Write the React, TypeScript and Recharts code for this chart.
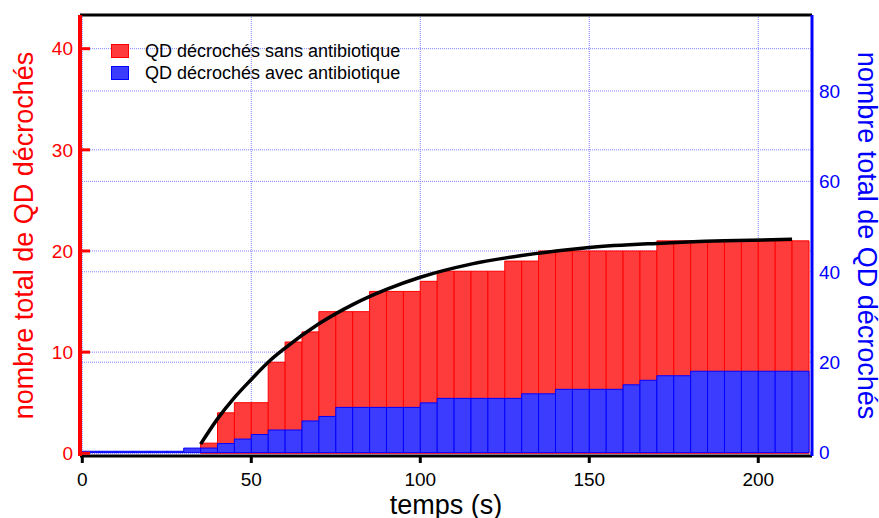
import React from 'react';
import { ComposedChart, Bar, Line, XAxis, YAxis, CartesianGrid, ReferenceLine } from 'recharts';

// ---- data ----
// centres of the 5 s bins (s)
const binCenters = [
  2.5, 7.5, 12.5, 17.5, 22.5, 27.5, 32.5, 37.5, 42.5, 47.5,
  52.5, 57.5, 62.5, 67.5, 72.5, 77.5, 82.5, 87.5, 92.5, 97.5,
  102.5, 107.5, 112.5, 117.5, 122.5, 127.5, 132.5, 137.5, 142.5, 147.5,
  152.5, 157.5, 162.5, 167.5, 172.5, 177.5, 182.5, 187.5, 192.5, 197.5,
  202.5, 207.5, 212.5,
];
// QD décrochés sans antibiotique (left axis)
const sansAntibiotique = [
  0, 0, 0, 0, 0, 0, 0, 1, 4, 5,
  5, 9, 11, 12, 14, 14, 14, 16, 16, 16,
  17, 18, 18, 18, 18, 19, 19, 20, 20, 20,
  20, 20, 20, 20, 21, 21, 21, 21, 21, 21,
  21, 21, 21,
];
// QD décrochés avec antibiotique (right axis)
const avecAntibiotique = [
  0.3, 0.3, 0.3, 0.3, 0.3, 0.3, 1, 1, 2, 3,
  4, 5, 5, 7, 8, 10, 10, 10, 10, 10,
  11, 12, 12, 12, 12, 12, 13, 13, 14, 14,
  14, 14, 15, 16, 17, 17, 18, 18, 18, 18,
  18, 18, 18,
];
// fitted curve (left axis)
const fitT = [35, 40, 45, 50, 55, 60, 70, 80, 90, 100, 115, 130, 150, 170, 190, 210];
const fitV = [0.9, 3.4, 5.5, 7.3, 9.0, 10.4, 12.8, 14.7, 16.2, 17.4, 18.7, 19.55, 20.35, 20.75, 21.0, 21.15];

const xTicks = [0, 50, 100, 150, 200];
const leftTicks = [0, 10, 20, 30, 40];
const rightTicks = [0, 20, 40, 60, 80];

const seriesNames = ['QD décrochés sans antibiotique', 'QD décrochés avec antibiotique'];
const axisTitle = 'nombre total de QD décrochés';
const xTitle = 'temps (s)';

// ---- layout / style ----
const W = 879;
const H = 518;
const X_DOMAIN: [number, number] = [-0.68, 215.9];
const LEFT_DOMAIN: [number, number] = [-0.27, 43.33];
const RIGHT_DOMAIN: [number, number] = [-0.75, 96.8];
const RED = '#ff0000';
const BLUE = '#0000ff';
const RED_FILL = '#ff3c3c';
const BLUE_FILL = '#3c3cff';
const GRID = '#8080ff';
const FONT = '"Liberation Sans", Arial, Helvetica, sans-serif';

export default function App() {
  const data = binCenters.map((t, i) => ({ t, sans: sansAntibiotique[i], avec: avecAntibiotique[i] }));
  const fit = fitT.map((t, i) => ({ t, fit: fitV[i] }));

  return (
    <div style={{ position: 'absolute', left: 0, top: 0, width: W, height: H, background: '#fff', fontFamily: FONT }}>
      <ComposedChart
        width={W}
        height={H}
        data={data}
        margin={{ top: 15, right: 0, bottom: 0, left: 0 }}
        barCategoryGap={0}
        barGap={0}
      >
        <XAxis
          xAxisId="x"
          dataKey="t"
          type="number"
          domain={X_DOMAIN}
          allowDataOverflow
          ticks={xTicks}
          height={62}
          tickSize={7}
          tickMargin={10}
          axisLine={{ stroke: '#000', strokeWidth: 3 }}
          tickLine={{ stroke: '#000', strokeWidth: 3 }}
          tick={{ fill: '#000', fontSize: 19 }}
          label={{ value: xTitle, position: 'insideBottom', offset: 4, fill: '#000', fontSize: 27 }}
        />
        <XAxis xAxisId="barR" dataKey="t" type="number" domain={X_DOMAIN} allowDataOverflow tickCount={44} height={0} hide />
        <XAxis xAxisId="barB" dataKey="t" type="number" domain={X_DOMAIN} allowDataOverflow tickCount={44} height={0} hide />
        <YAxis
          yAxisId="left"
          type="number"
          domain={LEFT_DOMAIN}
          allowDataOverflow
          ticks={leftTicks}
          width={80}
          tickSize={-10}
          tickMargin={17}
          axisLine={{ stroke: RED, strokeWidth: 4 }}
          tickLine={{ stroke: RED, strokeWidth: 3 }}
          tick={{ fill: RED, fontSize: 19 }}
          label={{
            value: axisTitle,
            angle: -90,
            position: 'insideLeft',
            offset: 23,
            textAnchor: 'middle',
            fill: RED,
            fontSize: 27,
          }}
        />
        <YAxis
          yAxisId="right"
          orientation="right"
          type="number"
          domain={RIGHT_DOMAIN}
          allowDataOverflow
          ticks={rightTicks}
          width={67}
          tickSize={0}
          tickMargin={7}
          axisLine={{ stroke: BLUE, strokeWidth: 3 }}
          tickLine={false}
          tick={{ fill: BLUE, fontSize: 19 }}
          label={{
            value: axisTitle,
            angle: 90,
            position: 'insideRight',
            offset: 11,
            textAnchor: 'middle',
            fill: BLUE,
            fontSize: 27,
          }}
        />

        <CartesianGrid xAxisId="x" yAxisId="left" stroke={GRID} strokeDasharray="1 1" />
        <CartesianGrid xAxisId="x" yAxisId="right" vertical={false} stroke={GRID} strokeDasharray="1 1" />

        <Bar
          xAxisId="barR"
          yAxisId="left"
          dataKey="sans"
          name={seriesNames[0]}
          fill={RED_FILL}
          stroke={RED}
          strokeWidth={1}
          isAnimationActive={false}
        />
        <Bar
          xAxisId="barB"
          yAxisId="right"
          dataKey="avec"
          name={seriesNames[1]}
          fill={BLUE_FILL}
          stroke={BLUE}
          strokeWidth={1}
          isAnimationActive={false}
        />
        <Line
          xAxisId="x"
          yAxisId="left"
          data={fit}
          dataKey="fit"
          type="monotone"
          stroke="#000"
          strokeWidth={3.5}
          dot={false}
          activeDot={false}
          isAnimationActive={false}
        />
        <ReferenceLine xAxisId="x" yAxisId="left" y={LEFT_DOMAIN[1]} stroke="#000" strokeWidth={3} />
      </ComposedChart>

      <div style={{ position: 'absolute', left: 111, top: 40, fontSize: 18, color: '#000', whiteSpace: 'nowrap' }}>
        {seriesNames.map((name, i) => (
          <div key={name} style={{ height: 21.7, lineHeight: '22px', display: 'flex', alignItems: 'center' }}>
            <span
              style={{
                display: 'inline-block',
                width: 16,
                height: 12,
                background: i === 0 ? RED_FILL : BLUE_FILL,
                border: `1px solid ${i === 0 ? RED : BLUE}`,
                marginRight: 16,
              }}
            />
            <span>{name}</span>
          </div>
        ))}
      </div>
    </div>
  );
}
